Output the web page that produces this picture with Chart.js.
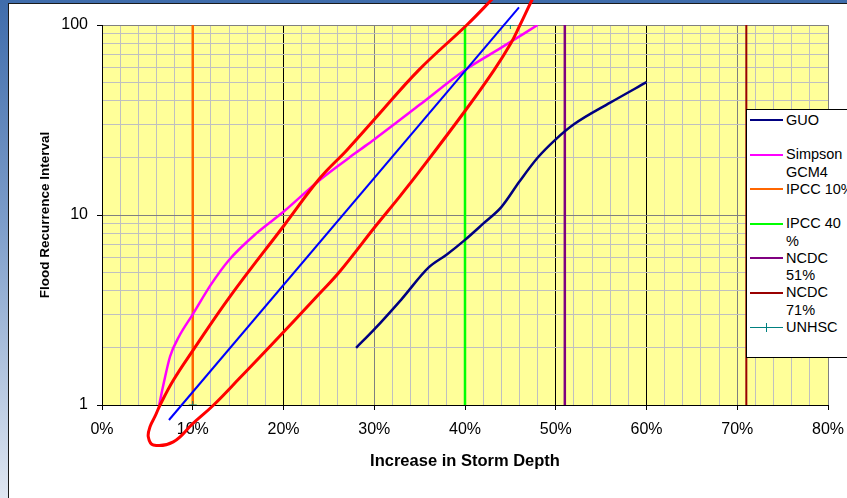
<!DOCTYPE html>
<html><head><meta charset="utf-8">
<script src="https://cdn.jsdelivr.net/npm/chart.js@4.4.1/dist/chart.umd.min.js"></script>
<style>
html,body{margin:0;padding:0;width:847px;height:498px;overflow:hidden;}
body{position:relative;background:linear-gradient(to bottom,#3f6cab 0%,#7d9dca 45%,#dfe6f1 100%);font-family:"Liberation Sans",Arial,sans-serif;}
#frame{position:absolute;left:8px;top:3px;width:900px;height:600px;background:#fff;border-left:1px solid #1a1a1a;border-top:1px solid #1a1a1a;}
#c{position:absolute;left:0;top:0;}
#legend{position:absolute;left:746px;top:109px;width:120px;height:249px;background:#fff;border:1px solid #000;box-sizing:border-box;}
.item{position:absolute;left:0;width:118px;}
.sym{position:absolute;left:3px;width:33px;height:0;}
.plusv{position:absolute;width:1px;height:9px;}
.txt{position:absolute;left:39px;white-space:pre;font-size:14.5px;line-height:17.3px;color:#000;}
</style></head>
<body>
<div id="frame"></div>
<canvas id="c" width="847" height="498"></canvas>
<div id="legend"></div>
<script>
// ---- data ----
const seriesNames  = ["GUO","Simpson GCM4","IPCC 10%","IPCC 40 %","NCDC 51%","NCDC 71%","UNHSC"];
const legendLabels = ["GUO","Simpson\nGCM4","IPCC 10%","IPCC 40\n%","NCDC\n51%","NCDC\n71%","UNHSC"];

const guoX = [28,30,33,36,38,40,42,44,46,48,50,52,56,60];
const guoY = [2,2.5,3.6,5.3,6.2,7.4,9,11,15,20,25,30,39,50];

const simpsonX = [6.3,6.8,7.5,8.5,10,12,14,17,20,24,28,30,35,40,44,48];
const simpsonY = [1,1.3,1.8,2.3,3,4.3,5.8,8,10.4,15.3,21.3,25,38,58,76,100];

const ipcc10X = [10,10];
const ipcc40X = [40,40];
const ncdc51X = [51,51];
const ncdc71X = [71,71];
const verticalY = [1,100];

const unhscX = [10,45];
const unhscY = [1,100];

// hand-drawn annotations (blue straight line, red loop)
const blueX = [7.38,45.95];
const blueY = [0.834,123.9];

const loopX = [47.7,45.5,42.9,40.2,34.9,30.1,27,24,20.1,14.1,10.06,7.86,6.4,5.84,5.3,5.1,5.65,7.86,10.03,12.3,15.2,18.5,24,26.2,30.2,32.8,35,40.1,43.2,45.07,46.06,47.38,48.26,47.7];
const loopY = [220,183,135.4,100,57.9,32.2,22,15.6,8.86,3.72,1.95,1.35,1.0,0.87,0.77,0.68,0.616,0.64,0.80,1.0,1.39,2.03,3.87,5.04,8.8,12.5,17,35.8,57.9,80.4,100,135.4,163,220];

// axes
const xGridValues = [0,2,4,6,8,10,12,14,16,18,20,22,24,26,28,30,32,34,36,38,40,42,44,46,48,50,52,54,56,58,60,62,64,66,68,70,72,74,76,78,80];
const xTickValues = [0,10,20,30,40,50,60,70,80];
const xTickLabels = ["0%","10%","20%","30%","40%","50%","60%","70%","80%"];
const yGridValues = [1,2,3,4,5,6,7,8,9,10,20,30,40,50,60,70,80,90,100];
const yTickValues = [1,10,100];
const yTickLabels = ["1","10","100"];

// ---- chart ----
const FONT = "'Liberation Sans', Arial, sans-serif";
const pts = (xs, ys) => xs.map((x, i) => ({x: x, y: ys[i]}));

const datasets = [
  {label: seriesNames[0], legendText: legendLabels[0], data: pts(guoX, guoY), borderColor: '#000080', borderWidth: 2.5, cubicInterpolationMode: 'monotone', order: 3},
  {label: seriesNames[1], legendText: legendLabels[1], data: pts(simpsonX, simpsonY), borderColor: '#FF00FF', borderWidth: 2.5, cubicInterpolationMode: 'monotone', order: 4},
  {label: seriesNames[2], legendText: legendLabels[2], data: pts(ipcc10X, verticalY), borderColor: '#FF6600', borderWidth: 2.5, order: 5},
  {label: seriesNames[3], legendText: legendLabels[3], data: pts(ipcc40X, verticalY), borderColor: '#00FF00', borderWidth: 2.5, order: 5},
  {label: seriesNames[4], legendText: legendLabels[4], data: pts(ncdc51X, verticalY), borderColor: '#800080', borderWidth: 2.5, order: 5},
  {label: seriesNames[5], legendText: legendLabels[5], data: pts(ncdc71X, verticalY), borderColor: '#990000', borderWidth: 2, order: 5},
  {label: seriesNames[6], legendText: legendLabels[6], data: pts(unhscX, unhscY), borderColor: '#008080', borderWidth: 1, showLine: false, pointStyle: 'cross', pointRadius: 4, marker: true, order: 2},
  {label: 'annotation line', data: pts(blueX, blueY), borderColor: '#0000FF', borderWidth: 2, clip: false, order: 1},
  {label: 'annotation loop', data: pts(loopX, loopY), borderColor: '#FF0000', borderWidth: 3, tension: 0.4, clip: false, order: 0}
];

const plotBg = {
  id: 'plotBg',
  beforeDraw(chart) {
    const {ctx, chartArea: a} = chart;
    ctx.save();
    ctx.fillStyle = '#FFFF99';
    ctx.fillRect(a.left, a.top, a.right - a.left, a.bottom - a.top);
    ctx.restore();
  }
};

const isMajorX = v => xTickValues.includes(v);
const isMajorY = v => yTickValues.includes(v);
const darkX = [0, 20, 50, 60];

const chart = new Chart(document.getElementById('c'), {
  type: 'line',
  data: {datasets: datasets},
  plugins: [plotBg],
  options: {
    responsive: false,
    animation: false,
    devicePixelRatio: 1,
    layout: {padding: {left: 0, right: 19, top: 25, bottom: 0}},
    elements: {line: {capBezierPoints: false, fill: false}, point: {radius: 0}},
    plugins: {legend: {display: false}, tooltip: {enabled: false}},
    scales: {
      x: {
        type: 'linear', min: 0, max: 80,
        afterBuildTicks: s => { s.ticks = xGridValues.map(v => ({value: v})); },
        afterFit: s => { s.height = 93; s.paddingLeft = 0; s.paddingRight = 0; },
        ticks: {
          autoSkip: false, maxRotation: 0, padding: 10, color: '#000',
          font: {family: FONT, size: 16},
          callback: v => { const i = xTickValues.indexOf(v); return i >= 0 ? xTickLabels[i] : ''; }
        },
        grid: {
          color: c => { const v = c.tick.value; return isMajorX(v) ? (darkX.includes(v) ? '#000' : '#808080') : '#C0C0C0'; },
          tickColor: c => isMajorX(c.tick.value) ? '#000' : 'rgba(0,0,0,0)',
          tickLength: 5, lineWidth: 1
        },
        border: {color: '#000', width: 1},
        title: {display: true, text: 'Increase in Storm Depth', color: '#000',
          font: {family: FONT, size: 16.5, weight: 'bold'}, padding: {top: 0, bottom: 26.4}}
      },
      y: {
        type: 'logarithmic', min: 1, max: 100,
        afterBuildTicks: s => { s.ticks = yGridValues.map(v => ({value: v})); },
        afterFit: s => { s.width = 102; },
        ticks: {
          autoSkip: false, padding: 9, color: '#000',
          font: {family: FONT, size: 16},
          callback: v => { const i = yTickValues.indexOf(v); return i >= 0 ? yTickLabels[i] : ''; }
        },
        grid: {
          color: c => { const v = c.tick.value; return v === 1 ? '#000' : (isMajorY(v) ? '#808080' : '#C0C0C0'); },
          tickColor: c => isMajorY(c.tick.value) ? '#000' : 'rgba(0,0,0,0)',
          tickLength: 5, lineWidth: 1
        },
        border: {color: '#000', width: 1},
        title: {display: true, text: 'Flood Recurrence Interval', color: '#000',
          font: {family: FONT, size: 13.5, weight: 'bold'}, padding: {top: 37.6, bottom: 0}}
      }
    }
  }
});

// ---- HTML legend built from the chart's datasets ----
const legendEl = document.getElementById('legend');
let k = 0;
chart.data.datasets.forEach(ds => {
  if (!ds.legendText) return;
  const cy = 10.5 + 34.5 * k;
  const item = document.createElement('div');
  item.className = 'item';
  item.style.top = '0px';
  const sym = document.createElement('div');
  sym.className = 'sym';
  const w = ds.marker ? 1.5 : 2.5;
  sym.style.top = (cy - w / 2) + 'px';
  sym.style.borderTop = w + 'px solid ' + ds.borderColor;
  item.appendChild(sym);
  if (ds.marker) {
    const pv = document.createElement('div');
    pv.className = 'plusv';
    pv.style.left = '19px';
    pv.style.top = (cy - 4.5) + 'px';
    pv.style.background = ds.borderColor;
    item.appendChild(pv);
  }
  const t = document.createElement('div');
  t.className = 'txt';
  t.style.top = (cy - 8.65) + 'px';
  t.textContent = ds.legendText;
  item.appendChild(t);
  legendEl.appendChild(item);
  k++;
});
</script>
</body></html>
